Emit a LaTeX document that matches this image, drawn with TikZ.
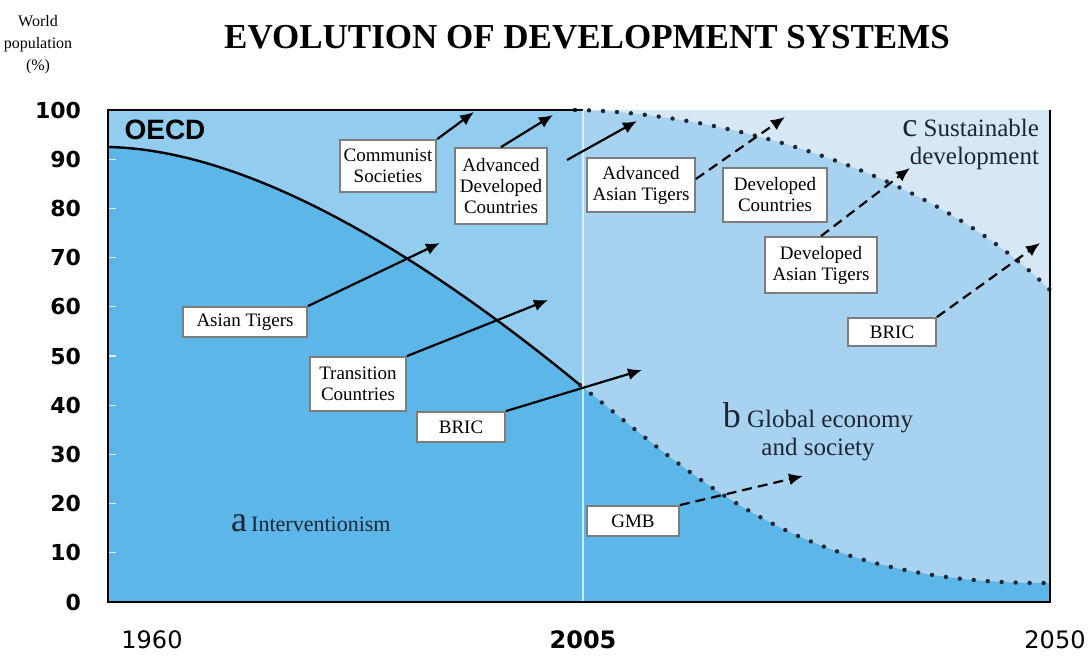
\documentclass[tikz,border=0pt]{standalone}
\usepackage{fontspec}
\setmainfont{Liberation Serif}
\newfontfamily\axisfont{DejaVu Sans}
\newfontfamily\oecdfont{Liberation Sans}
\usetikzlibrary{arrows.meta}

\definecolor{regA}{RGB}{92,182,232}
\definecolor{regBL}{RGB}{146,204,238}
\definecolor{regB}{RGB}{168,211,240}
\definecolor{regC}{RGB}{214,232,246}
\definecolor{boxgray}{RGB}{125,125,125}
\definecolor{ink}{RGB}{30,38,52}

\begin{document}
\begin{tikzpicture}[x=0.5pt,y=-0.5pt,
    lbox/.style={draw=boxgray, line width=0.9pt, fill=white, align=center,
      font=\fontsize{9.5}{10.5}\selectfont, inner sep=2pt},
    tie/.style={line width=1.1pt, -{Latex[length=7pt,width=6pt]}},
    tiedash/.style={tie, dash pattern=on 5pt off 3pt},
    dots/.style={ink, line width=2.2pt, line cap=round, dash pattern=on 0pt off 7pt},
    ylab/.style={anchor=east, font=\axisfont\bfseries\fontsize{11}{11}\selectfont},
    yrlab/.style={font=\axisfont\fontsize{12}{12}\selectfont},
    regtext/.style={text=ink, font=\fontsize{12.5}{14}\selectfont}]
    \useasboundingbox (0,0) rectangle (1092,662);
    \node[font=\bfseries\fontsize{17.5}{20}\selectfont] (title) at (587,37) {EVOLUTION OF DEVELOPMENT SYSTEMS};
    \node[align=center, font=\fontsize{8}{11}\selectfont] (ytitle) at (38,45) {World\\population\\(\%)};
    \fill[regB] (108,110) rectangle (1050,602);
    \fill[regBL] (108,110) rectangle (583,602);
    \fill[regC] (575,110) .. controls (720,112) and (930,170) .. (1050,290) -- (1050,110) -- cycle;
    \fill[regA] (108,602) -- (108,147) .. controls (260,150) and (440,270) .. (580,385)
        .. controls (700,480) and (800,585) .. (1050,583) -- (1050,602) -- cycle;
    \draw[white, opacity=0.7, line width=0.8pt] (583,110) -- (583,602);
    \foreach \v in {10,20,...,90}
        \draw[white, opacity=0.8, line width=0.6pt] (108,{602-4.92*\v}) -- (116,{602-4.92*\v});
    \draw[line width=1.2pt] (108,147) .. controls (260,150) and (440,270) .. (580,385);
    \draw[dots] (580,385) .. controls (700,480) and (800,585) .. (1050,583);
    \draw[dots] (575,110) .. controls (720,112) and (930,170) .. (1050,290);
    \draw[line width=1.4pt] (583,110) -- (108,110) -- (108,602) -- (1050,602) -- (1050,110);
    \foreach \v in {0,10,...,100}
        \node[ylab] (y\v) at (88,{602-4.92*\v}) {\v};
    \node[yrlab] (yr1960) at (152,640) {1960};
    \node[yrlab, font=\axisfont\bfseries\fontsize{12}{12}\selectfont] (yr2005) at (583,640) {2005};
    \node[yrlab] (yr2050) at (1055,640) {2050};
    \node[font=\oecdfont\bfseries\fontsize{14}{14}\selectfont] (oecd) at (165,130) {OECD};
    \node[regtext, anchor=west] (lab-a) at (224,523) {{\fontsize{18}{18}\selectfont a}\,{\fontsize{11}{12}\selectfont Interventionism}};
    \node[regtext, align=center] (lab-b) at (818,432) {{\fontsize{18}{14}\selectfont b} Global economy\\and society};
    \node[regtext, align=right, anchor=east] (lab-c) at (1046,144) {{\fontsize{17}{14}\selectfont c} Sustainable\\development};

    \node[lbox, minimum width=48pt, minimum height=26pt] (comm) at (388,166) {Communist\\Societies};
    \node[lbox, minimum width=46pt, minimum height=38pt] (adc) at (501,186) {Advanced\\Developed\\Countries};
    \node[lbox, minimum width=54pt, minimum height=27pt] (aat) at (641,185) {Advanced\\Asian Tigers};
    \node[lbox, minimum width=52pt, minimum height=27pt] (devc) at (775,195) {Developed\\Countries};
    \node[lbox, minimum width=56pt, minimum height=28pt] (dat) at (821,265) {Developed\\Asian Tigers};
    \node[lbox, minimum width=44pt, minimum height=14pt] (bricR) at (892,332) {BRIC};
    \node[lbox, minimum width=62pt, minimum height=15pt] (tigers) at (245,322) {Asian Tigers};
    \node[lbox, minimum width=48pt, minimum height=27pt] (trans) at (358,384) {Transition\\Countries};
    \node[lbox, minimum width=44pt, minimum height=15pt] (bricL) at (461,427) {BRIC};
    \node[lbox, minimum width=46pt, minimum height=15pt] (gmb) at (633,521) {GMB};

    \coordinate (comm-tip) at (474,112);
    \coordinate (adc-tip) at (553,115);
    \coordinate (adc-from) at (567,160);
    \coordinate (adc-tip2) at (637,121);
    \coordinate (aat-tip) at (785,117);
    \coordinate (dat-tip) at (910,168);
    \coordinate (bricR-tip) at (1040,243);
    \coordinate (tigers-tip) at (440,243);
    \coordinate (trans-tip) at (548,300);
    \coordinate (bricL-tip) at (642,370);
    \coordinate (gmb-tip) at (803,476);
    \draw[tie] (comm.north east) -- (comm-tip);
    \draw[tie] (adc.north) -- (adc-tip);
    \draw[tie] (adc-from) -- (adc-tip2);
    \draw[tiedash] ([yshift=3pt]aat.east) -- (aat-tip);
    \draw[tiedash] (dat.north) -- (dat-tip);
    \draw[tiedash] (bricR.north east) -- (bricR-tip);
    \draw[tie] (tigers.north east) -- (tigers-tip);
    \draw[tie] (trans.north east) -- (trans-tip);
    \draw[tie] (bricL.north east) -- (bricL-tip);
    \draw[tiedash] (gmb.north east) -- (gmb-tip);
\end{tikzpicture}
\end{document}
